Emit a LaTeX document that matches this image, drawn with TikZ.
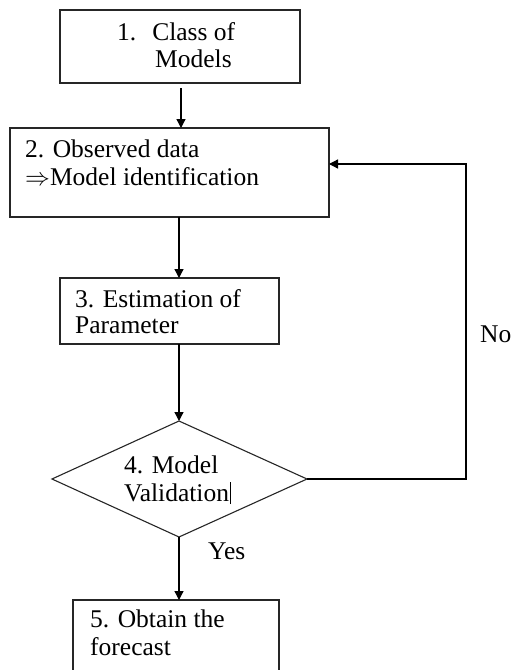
\documentclass[tikz,border=0pt]{standalone}
\usepackage{fontspec}
\setmainfont{Liberation Serif}
\usetikzlibrary{arrows.meta}
\begin{document}
\begin{tikzpicture}[x=1pt,y=-1pt,
  boxline/.style={draw=black!85,line width=1.1pt},
  conn/.style={draw=black,line width=1.3pt,-{Triangle[width=9pt,length=9pt]}},
  lbl/.style={anchor=base west,inner sep=0pt,font=\fontsize{25.5}{28}\selectfont}]
\useasboundingbox (0,0) rectangle (521,670);
\clip (0,0) rectangle (521,670);
\fill[white] (0,0) rectangle (521,670);
% boxes
\path[boxline] (60,10) rectangle (300,83);
\coordinate (b1s) at (181,83);
\path[boxline] (10,128) rectangle (329,217);
\coordinate (b2n) at (181,128);
\coordinate (b2s) at (179,217);
\coordinate (b2e) at (329,164);
\path[boxline] (60,278) rectangle (279,344);
\coordinate (b3n) at (179,278);
\coordinate (b3s) at (179,344);
\path[boxline] (179,421) -- (307,479) -- (179,537) -- (52,479) -- cycle;
\coordinate (d4n) at (179,421);
\coordinate (d4s) at (179,537);
\coordinate (d4e) at (307,479);
\path[boxline] (73,690) -- (73,600) -- (279,600) -- (279,690);
\coordinate (b5n) at (179,600);
\coordinate (c1) at (466,479);
\coordinate (c2) at (466,164);
% texts
\node[lbl] (t1a) at (117,40) {1.\hspace{16pt}Class of};
\node[lbl] (t1b) at (155,67) {Models};
\node[lbl] (t2a) at (25,157) {2. Observed data};
\node[lbl] (t2b) at (25,185) {$\Rightarrow$Model identification};
\node[lbl] (t3a) at (75,307) {3. Estimation of};
\node[lbl] (t3b) at (75,333) {Parameter};
\node[lbl] (t4a) at (124,473) {4. Model};
\node[lbl] (t4b) at (124,501) {Validation};
\draw[line width=1.4pt] (t4b.base east) ++(1,3) -- ++(0,-22);
\node[lbl] (t5a) at (90,627) {5. Obtain the};
\node[lbl] (t5b) at (90,655) {forecast};
\node[lbl] (no) at (480,342) {No};
\node[lbl] (yes) at (208,559) {Yes};
% connectors
\draw[conn] (b1s) ++(0,5) -- (b2n);
\draw[conn] (b2s) -- (b3n);
\draw[conn] (b3s) -- (d4n);
\draw[conn] (d4s) -- (b5n);
\draw[conn] (d4e) -- (c1) -- (c2) -- (b2e);
\end{tikzpicture}
\end{document}
